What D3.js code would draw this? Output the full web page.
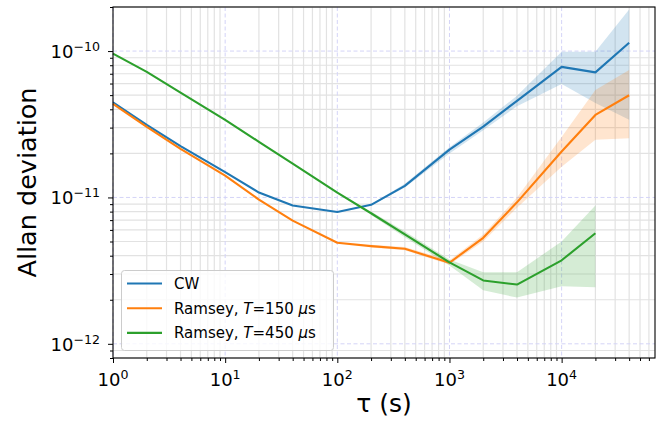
<!DOCTYPE html>
<html>
<head>
<meta charset="utf-8">
<script src="https://cdn.jsdelivr.net/npm/d3@7"></script>
<style>
  body { margin: 0; background: #fff; }
  text { font-family: "DejaVu Sans", sans-serif; fill: #000; }
</style>
</head>
<body>
<svg width="663" height="424"></svg>
<script>
  // averaging times (s)
  const tau = [1, 2, 4, 10, 20, 40, 100, 200, 400, 1000, 2000, 4000, 10000, 20000, 40000];
  const tau450 = [1, 2, 4, 10, 20, 40, 100, 200, 400, 1000, 2000, 4000, 10000, 20000];

  // Allan deviation of each series
  const cwValues = [4.47e-11, 3.13e-11, 2.24e-11, 1.49e-11, 1.08e-11, 8.8e-12, 7.96e-12, 8.9e-12, 1.2e-11, 2.12e-11, 3.05e-11, 4.57e-11, 7.8e-11, 7.15e-11, 1.14e-10];
  const r150Values = [4.35e-11, 3.03e-11, 2.15e-11, 1.41e-11, 9.66e-12, 6.95e-12, 4.9e-12, 4.65e-12, 4.46e-12, 3.58e-12, 5.3e-12, 9.26e-12, 2.06e-11, 3.66e-11, 4.99e-11];
  const r450Values = [9.6e-11, 7.2e-11, 5.2e-11, 3.39e-11, 2.4e-11, 1.7e-11, 1.08e-11, 7.8e-12, 5.6e-12, 3.6e-12, 2.71e-12, 2.54e-12, 3.72e-12, 5.69e-12];

  // error bands
  const bandTau = [200, 400, 1000, 2000, 4000, 10000, 20000, 40000];
  const bandTau450 = [200, 400, 1000, 2000, 4000, 10000, 20000];
  const cwLo = [8.8e-12, 1.17e-11, 2.0e-11, 2.88e-11, 4.2e-11, 5.96e-11, 4.41e-11, 3.39e-11];
  const cwHi = [9.0e-12, 1.24e-11, 2.2e-11, 3.25e-11, 4.95e-11, 9.89e-11, 9.89e-11, 1.92e-10];
  const r150Lo = [4.55e-12, 4.35e-12, 3.48e-12, 5.0e-12, 8.5e-12, 1.62e-11, 2.48e-11, 2.54e-11];
  const r150Hi = [4.75e-12, 4.58e-12, 3.72e-12, 5.58e-12, 9.98e-12, 2.59e-11, 5.42e-11, 7.43e-11];
  const r450Lo = [7.6e-12, 5.35e-12, 3.43e-12, 2.32e-12, 2.07e-12, 2.47e-12, 2.43e-12];
  const r450Hi = [8.0e-12, 5.85e-12, 3.77e-12, 3.08e-12, 3.08e-12, 5.0e-12, 8.8e-12];

  const xMajor = [1, 10, 100, 1000, 10000];
  const yMajor = [1e-12, 1e-11, 1e-10];

  const colors = ['#1f77b4', '#ff7f0e', '#2ca02c'];

  (function () {
    const svg = d3.select('svg');
    const pLeft = 113, pRight = 655, pTop = 7, pBottom = 358;

    const x = d3.scaleLog().domain([1, 68000]).range([pLeft, pRight]);
    const y = d3.scaleLog().domain([8e-13, 2e-10]).range([pBottom, pTop]);

    const isMajor = (list, d) => list.some(m => Math.abs(m - d) / m < 1e-6);
    const xMinor = x.ticks().filter(d => !isMajor(xMajor, d));
    const yMinor = y.ticks().filter(d => !isMajor(yMajor, d));

    // grid
    const grid = svg.append('g');
    grid.selectAll('.gx').data(xMinor).enter().append('line')
      .attr('x1', d => x(d)).attr('x2', d => x(d))
      .attr('y1', pTop).attr('y2', pBottom)
      .attr('stroke', '#e2e2e2').attr('stroke-width', 1.2);
    grid.selectAll('.gy').data(yMinor).enter().append('line')
      .attr('y1', d => y(d)).attr('y2', d => y(d))
      .attr('x1', pLeft).attr('x2', pRight)
      .attr('stroke', '#e2e2e2').attr('stroke-width', 1.2);
    grid.selectAll('.gX').data(xMajor).enter().append('line')
      .attr('x1', d => x(d)).attr('x2', d => x(d))
      .attr('y1', pTop).attr('y2', pBottom)
      .attr('stroke', '#d4d4f7').attr('stroke-width', 1).attr('stroke-dasharray', '4,2.5');
    grid.selectAll('.gY').data(yMajor).enter().append('line')
      .attr('y1', d => y(d)).attr('y2', d => y(d))
      .attr('x1', pLeft).attr('x2', pRight)
      .attr('stroke', '#d4d4f7').attr('stroke-width', 1).attr('stroke-dasharray', '4,2.5');

    // bands
    const area = d3.area().x(d => x(d[0])).y0(d => y(d[1])).y1(d => y(d[2]));
    const bands = [
      [bandTau, cwLo, cwHi, colors[0]],
      [bandTau, r150Lo, r150Hi, colors[1]],
      [bandTau450, r450Lo, r450Hi, colors[2]]
    ];
    bands.forEach(([t, lo, hi, c]) => {
      svg.append('path')
        .datum(t.map((d, i) => [d, lo[i], hi[i]]))
        .attr('d', area)
        .attr('fill', c).attr('fill-opacity', 0.2);
    });

    // lines
    const line = d3.line().x(d => x(d[0])).y(d => y(d[1]));
    const series = [
      [tau, cwValues, colors[0]],
      [tau, r150Values, colors[1]],
      [tau450, r450Values, colors[2]]
    ];
    series.forEach(([t, v, c]) => {
      svg.append('path')
        .datum(t.map((d, i) => [d, v[i]]))
        .attr('d', line)
        .attr('fill', 'none').attr('stroke', c).attr('stroke-width', 2.1)
        .attr('stroke-linejoin', 'round');
    });

    // axes
    const exp = d => Math.round(Math.log10(d));
    const xAxisG = svg.append('g').attr('transform', `translate(0,${pBottom})`);
    xAxisG.append('g').call(d3.axisBottom(x).tickValues(xMinor).tickSize(3).tickFormat(''));
    xAxisG.append('g').call(d3.axisBottom(x).tickValues(xMajor).tickSize(5).tickFormat(''));
    xAxisG.selectAll('.domain').remove();
    xAxisG.selectAll('line').attr('stroke', '#000').attr('stroke-width', 1);
    xAxisG.selectAll('.lbl').data(xMajor).enter().append('text')
      .attr('x', d => x(d)).attr('y', 28).attr('text-anchor', 'middle')
      .attr('font-size', 18)
      .each(function (d) {
        const t = d3.select(this);
        t.append('tspan').text('10');
        t.append('tspan').attr('font-size', 12.6).attr('dy', -7).text(exp(d));
      });

    const yAxisG = svg.append('g').attr('transform', `translate(${pLeft},0)`);
    yAxisG.append('g').call(d3.axisLeft(y).tickValues(yMinor).tickSize(3).tickFormat(''));
    yAxisG.append('g').call(d3.axisLeft(y).tickValues(yMajor).tickSize(5).tickFormat(''));
    yAxisG.selectAll('.domain').remove();
    yAxisG.selectAll('line').attr('stroke', '#000').attr('stroke-width', 1);
    yAxisG.selectAll('.lbl').data(yMajor).enter().append('text')
      .attr('x', -13).attr('y', d => y(d) + 7).attr('text-anchor', 'end')
      .attr('font-size', 18)
      .each(function (d) {
        const t = d3.select(this);
        t.append('tspan').text('10');
        t.append('tspan').attr('font-size', 12.6).attr('dy', -7).text('\u2212' + Math.abs(exp(d)));
      });

    // frame
    svg.append('rect')
      .attr('x', pLeft).attr('y', pTop).attr('width', pRight - pLeft).attr('height', pBottom - pTop)
      .attr('fill', 'none').attr('stroke', '#000').attr('stroke-width', 1.1);

    // axis labels
    svg.append('text')
      .attr('x', (pLeft + pRight) / 2).attr('y', 412).attr('text-anchor', 'middle')
      .attr('font-size', 25)
      .text('\u03c4 (s)');
    svg.append('text')
      .attr('transform', `translate(36,${(pTop + pBottom) / 2}) rotate(-90)`)
      .attr('text-anchor', 'middle')
      .attr('font-size', 25.5)
      .text('Allan deviation');

    // legend
    const legend = svg.append('g');
    legend.append('rect')
      .attr('x', 121.5).attr('y', 270.5).attr('width', 212).attr('height', 80).attr('rx', 3)
      .attr('fill', '#fff').attr('fill-opacity', 0.8).attr('stroke', '#cccccc');
    const legendItems = [
      [['CW', false]],
      [['Ramsey, ', false], ['T', true], ['=150 ', false], ['\u03bc', true], ['s', false]],
      [['Ramsey, ', false], ['T', true], ['=450 ', false], ['\u03bc', true], ['s', false]]
    ];
    legendItems.forEach((parts, i) => {
      const yy = 283.5 + i * 24.7;
      legend.append('line')
        .attr('x1', 127).attr('x2', 162).attr('y1', yy).attr('y2', yy)
        .attr('stroke', colors[i]).attr('stroke-width', 2.1);
      const t = legend.append('text')
        .attr('x', 174).attr('y', yy + 5.5).attr('font-size', 15);
      parts.forEach(([s, it]) => {
        t.append('tspan').attr('font-style', it ? 'italic' : 'normal').text(s);
      });
    });
  })();
</script>
</body>
</html>
